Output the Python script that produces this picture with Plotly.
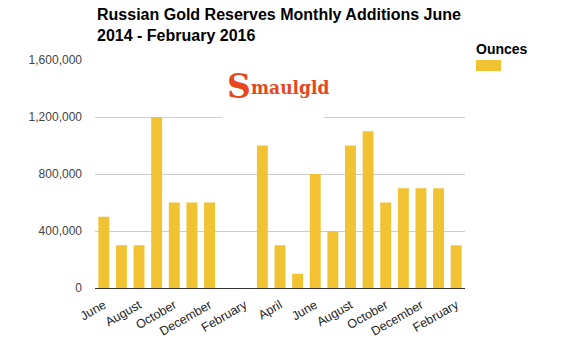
import plotly.graph_objects as go

# Monthly additions to Russia's gold reserves, June 2014 - February 2016 (troy ounces)
months = ["June", "July", "August", "September", "October", "November", "December",
          "January", "February", "March", "April", "May", "June", "July", "August",
          "September", "October", "November", "December", "January", "February"]
ounces = [500000, 300000, 300000, 1200000, 600000, 600000, 600000,
          0, 0, 1000000, 300000, 100000, 800000, 400000, 1000000,
          1100000, 600000, 700000, 700000, 700000, 300000]

# every second month is labelled on the category axis
tick_idx = list(range(0, len(months), 2))
tick_text = [months[i] for i in tick_idx]
y_ticks = [0, 400000, 800000, 1200000, 1600000]

BAR = "#f1c232"
LOGO = "#e8461c"
FONT = "Liberation Sans, Arial, sans-serif"

fig = go.Figure(go.Bar(
    x=list(range(len(months))), y=ounces, marker_color=BAR,
    marker_line_width=0, name="Ounces", showlegend=False,
    hovertext=months,
))

W, H = 566, 342
L, R, T, B = 95, 101, 60, 54
PW, PH = W - L - R, H - T - B


def px(x):
    return (x - L) / PW


def py(y):
    return (H - B - y) / PH


fig.update_layout(
    width=W, height=H,
    margin=dict(l=L, r=R, t=T, b=B),
    paper_bgcolor="white", plot_bgcolor="white",
    bargap=0.38,
    font=dict(family=FONT, size=12, color="#444"),
    xaxis=dict(
        range=[-0.5, len(months) - 0.5],
        tickmode="array", tickvals=tick_idx, ticktext=tick_text,
        tickangle=-30, tickfont=dict(size=12.5, color="#222"),
        showgrid=False, zeroline=False,
        showline=True, linecolor="#333", linewidth=1,
        ticks="outside", ticklen=4, tickcolor="rgba(0,0,0,0)",
        automargin=False, fixedrange=True,
    ),
    yaxis=dict(
        range=[0, 1600000],
        tickmode="array", tickvals=y_ticks, tickformat=",d",
        tickfont=dict(size=12, color="#444"),
        showgrid=True, gridcolor="#cccccc", gridwidth=1,
        zeroline=False, showline=False, ticks="",
        ticklabelstandoff=12, automargin=False, fixedrange=True,
    ),
)

# white panel behind the logo, interrupting the grid
fig.add_shape(type="rect", xref="paper", yref="paper",
              x0=px(222), x1=px(324), y0=py(120), y1=py(64),
              fillcolor="white", line_width=0, layer="above")

annotations = [
    # chart title
    dict(text="<b>Russian Gold Reserves Monthly Additions June<br>2014 - February 2016</b>",
         xref="paper", yref="paper", x=0, y=py(4),
         xanchor="left", yanchor="top", align="left", showarrow=False,
         font=dict(family=FONT, size=16, color="#000")),
    # legend title
    dict(text="<b>Ounces</b>", xref="paper", yref="paper",
         x=px(474), y=py(49),
         xanchor="left", yanchor="middle", showarrow=False,
         font=dict(family=FONT, size=14, color="#000")),
    # logo
    dict(text="<b>S</b>", xref="paper", yref="paper",
         x=px(239), y=py(86),
         xanchor="center", yanchor="middle", showarrow=False,
         font=dict(family="DejaVu Serif, serif", size=33, color=LOGO)),
    dict(text="<b>maulgld</b>", xref="paper", yref="paper",
         x=px(249), y=py(87),
         xanchor="left", yanchor="middle", showarrow=False,
         font=dict(family="DejaVu Serif Condensed, serif", size=19, color=LOGO)),
]
fig.update_layout(annotations=annotations)

# legend swatch
fig.add_shape(type="rect", xref="paper", yref="paper",
              x0=px(476), x1=px(501), y0=py(71), y1=py(60),
              fillcolor=BAR, line_width=0)

fig.write_html("out.html")
